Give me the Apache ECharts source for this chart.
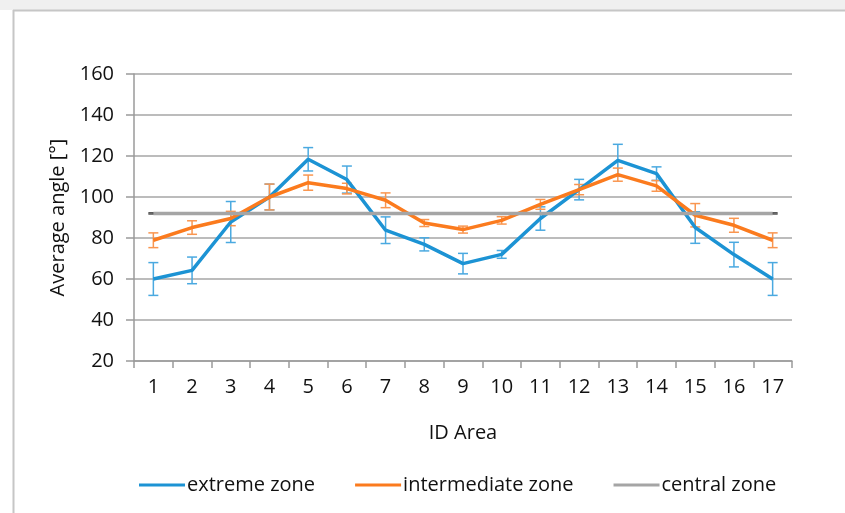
<!DOCTYPE html>
<html>
<head>
<meta charset="utf-8">
<script src="https://cdn.jsdelivr.net/npm/echarts@6/dist/echarts.min.js"></script>
<style>
  html, body { margin: 0; padding: 0; background: #ffffff; }
  #chart { width: 845px; height: 513px; }
</style>
</head>
<body>
<div id="chart"></div>
<script>
// Area identifiers along the horizontal axis
const areas = ['1','2','3','4','5','6','7','8','9','10','11','12','13','14','15','16','17'];

// Average angle per area [°]
const extremeZone      = [60, 64.2, 87.8, 100, 118.4, 108.5, 83.8, 76.9, 67.5, 72, 89.5, 103.6, 117.9, 111.4, 85.1, 71.9, 60];
const intermediateZone = [78.9, 85.1, 89.5, 100, 107, 104.1, 98.4, 87.3, 84.1, 88.6, 96.4, 103.6, 110.9, 105.4, 91.1, 86.2, 78.9];
const centralZone      = [92, 92, 92, 92, 92, 92, 92, 92, 92, 92, 92, 92, 92, 92, 92, 92, 92];

// Standard deviation (± error) per area
const extremeErr      = [8, 6.5, 10, 6.3, 5.7, 6.6, 6.5, 3.2, 5, 1.9, 5.7, 5, 7.8, 3.3, 7.7, 6, 8];
const intermediateErr = [3.6, 3.3, 3.5, 6.3, 3.7, 2.6, 3.6, 1.7, 1.7, 1.8, 2.4, 2.5, 3.2, 2.6, 5.7, 3.4, 3.6];
const centralErr      = [0.3, 0.3, 0.3, 0.3, 0.3, 0.3, 0.3, 0.3, 0.3, 0.3, 0.3, 0.3, 0.3, 0.3, 0.3, 0.3, 0.3];

// Axis range
const yMin = 20, yMax = 160, yStep = 20;

const FONT = '"Open Sans", sans-serif';
const TEXT = '#111111';
const FS = 20;

const BLUE = '#1c93d4', ORANGE = '#fb7b1e', GRAY = '#a5a5a5';

function errorData(values, errs) {
  return values.map((v, i) => [i, v - errs[i], v + errs[i]]);
}

function errorSeries(name, values, errs, color, capHalf) {
  return {
    type: 'custom',
    name: name,
    silent: true,
    z: 1,
    itemStyle: { color: color },
    data: errorData(values, errs),
    renderItem: function (params, api) {
      const x = api.coord([api.value(0), 0])[0];
      const lo = api.coord([api.value(0), api.value(1)])[1];
      const hi = api.coord([api.value(0), api.value(2)])[1];
      const st = { stroke: color, lineWidth: 1.5 };
      return {
        type: 'group',
        children: [
          { type: 'line', shape: { x1: x, y1: lo, x2: x, y2: hi }, style: st },
          { type: 'line', shape: { x1: x - capHalf, y1: hi, x2: x + capHalf, y2: hi }, style: st },
          { type: 'line', shape: { x1: x - capHalf, y1: lo, x2: x + capHalf, y2: lo }, style: st }
        ]
      };
    }
  };
}

function lineSeries(name, values, color) {
  return {
    type: 'line',
    name: name,
    data: values,
    z: 3,
    symbol: 'none',
    color: color,
    lineStyle: { color: color, width: 3.5 },
    itemStyle: { color: color },
    emphasis: { disabled: true }
  };
}

const chart = echarts.init(document.getElementById('chart'), null, { renderer: 'canvas' });

chart.setOption({
  backgroundColor: '#ffffff',
  animation: false,
  graphic: [
    { type: 'rect', shape: { x: 0, y: 0, width: 845, height: 10 }, style: { fill: '#f0f0f0' }, z: -10 },
    { type: 'line', shape: { x1: 13, y1: 10.5, x2: 845, y2: 10.5 }, style: { stroke: '#c6c6c6', lineWidth: 2 }, z: -9 },
    { type: 'line', shape: { x1: 13.5, y1: 10, x2: 13.5, y2: 513 }, style: { stroke: '#c6c6c6', lineWidth: 2 }, z: -9 }
  ],
  grid: { left: 134, right: 53, top: 74, bottom: 152, containLabel: false },
  legend: {
    top: 470,
    left: 134,
    itemWidth: 46,
    itemHeight: 3,
    itemGap: 40,
    icon: 'rect',
    textStyle: { fontFamily: FONT, fontSize: FS, color: TEXT, padding: [0, 0, 0, -3] },
    data: [
      { name: 'extreme zone', itemStyle: { color: BLUE } },
      { name: 'intermediate zone', itemStyle: { color: ORANGE } },
      { name: 'central zone', itemStyle: { color: GRAY } }
    ]
  },
  xAxis: {
    type: 'category',
    data: areas,
    boundaryGap: true,
    name: 'ID Area',
    nameLocation: 'middle',
    nameGap: 62,
    nameTextStyle: { fontFamily: FONT, fontSize: FS, color: TEXT },
    axisLine: { lineStyle: { color: '#9a9a9a', width: 1.5 } },
    axisTick: { show: true, alignWithLabel: false, length: 7, lineStyle: { color: '#9a9a9a', width: 1.5 } },
    axisLabel: { fontFamily: FONT, fontSize: FS, color: TEXT, margin: 16 },
    splitLine: { show: false }
  },
  yAxis: {
    type: 'value',
    min: yMin,
    max: yMax,
    interval: yStep,
    name: 'Average angle [°]',
    nameLocation: 'middle',
    nameGap: 66,
    nameRotate: 90,
    nameTextStyle: { fontFamily: FONT, fontSize: FS, color: TEXT },
    axisLine: { show: true, lineStyle: { color: '#9a9a9a', width: 1.5 } },
    axisTick: { show: true, length: 8, lineStyle: { color: '#9a9a9a', width: 1.5 } },
    axisLabel: { fontFamily: FONT, fontSize: FS, color: TEXT, margin: 20 },
    splitLine: { show: true, lineStyle: { color: '#a6a6a6', width: 1.5 } }
  },
  series: [
    lineSeries('extreme zone', extremeZone, BLUE),
    lineSeries('intermediate zone', intermediateZone, ORANGE),
    lineSeries('central zone', centralZone, GRAY),
    errorSeries('extreme zone', extremeZone, extremeErr, '#4aa9e0', 5),
    errorSeries('intermediate zone', intermediateZone, intermediateErr, '#f99650', 5),
    errorSeries('central zone', centralZone, centralErr, '#555555', 5)
  ]
});
</script>
</body>
</html>
